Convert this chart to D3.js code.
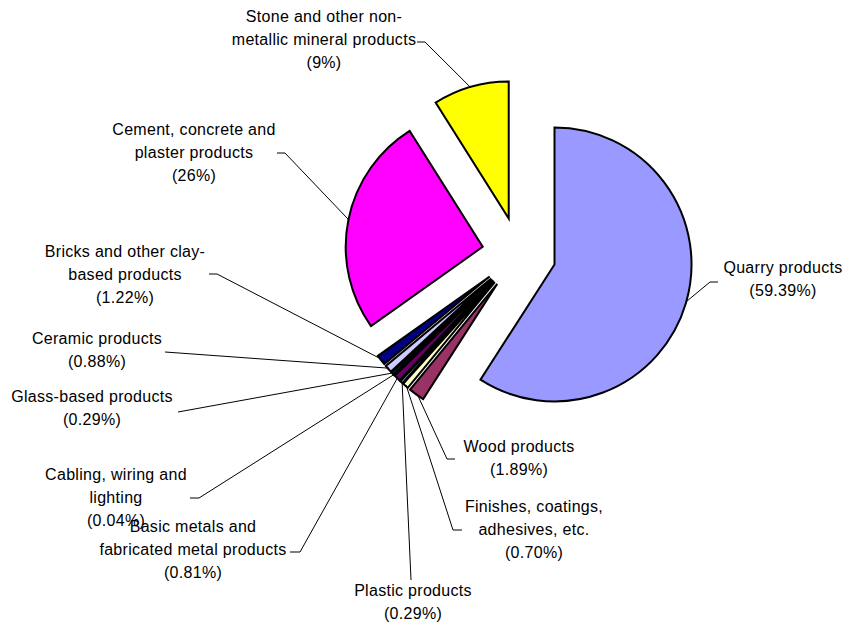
<!DOCTYPE html>
<html>
<head>
<meta charset="utf-8">
<script src="https://cdn.jsdelivr.net/npm/d3@7"></script>
<style>
  body { margin: 0; background: #fff; }
  svg { display: block; }
  .label text { font-family: "Liberation Sans", Arial, sans-serif; font-size: 16px; letter-spacing: 0.3px; fill: #000; }
  .leader { fill: none; stroke: #000; stroke-width: 1; }
  .slice { stroke: #000; stroke-width: 2; stroke-linejoin: miter; }
</style>
</head>
<body>
<svg id="chart" width="844" height="632"></svg>
<script>
// slices clockwise from 12 o'clock
const categories = [
  'Quarry products', 'Wood products', 'Finishes, coatings, adhesives, etc.',
  'Plastic products', 'Basic metals and fabricated metal products',
  'Cabling, wiring and lighting', 'Glass-based products', 'Ceramic products',
  'Bricks and other clay-based products', 'Cement, concrete and plaster products',
  'Stone and other non-metallic mineral products'
];
const labelLines = [
  [ 'Quarry products' ],
  [ 'Wood products' ],
  [ 'Finishes, coatings,', 'adhesives, etc.' ],
  [ 'Plastic products' ],
  [ 'Basic metals and', 'fabricated metal products' ],
  [ 'Cabling, wiring and', 'lighting' ],
  [ 'Glass-based products' ],
  [ 'Ceramic products' ],
  [ 'Bricks and other clay-', 'based products' ],
  [ 'Cement, concrete and', 'plaster products' ],
  [ 'Stone and other non-', 'metallic mineral products' ]
];
const shares = [ 59.39, 1.89, 0.70, 0.29, 0.81, 0.04, 0.29, 0.88, 1.22, 26, 9 ];

// Excel default chart fill order
const sliceColors = [
  '#9999FF', '#993366', '#FFFFCC', '#CCFFFF', '#660066', '#FF8080',
  '#0066CC', '#CCCCFF', '#000080', '#FF00FF', '#FFFF00'
];

// label block: centre x, first baseline, leader start, elbow end (null = straight)
const labelLayout = [
  { cx : 783, y : 273, sx : 718, sy : 282, ex : 710 },
  { cx : 519, y : 452, sx : 455, sy : 459, ex : 447 },
  { cx : 534, y : 512, sx : 462, sy : 530, ex : 453 },
  { cx : 413, y : 596, sx : 411, sy : 580, ex : null },
  { cx : 193, y : 532, sx : 290, sy : 552, ex : 300 },
  { cx : 116, y : 480, sx : 190, sy : 498, ex : 199 },
  { cx : 92, y : 402, sx : 178, sy : 412, ex : null },
  { cx : 97, y : 344, sx : 165, sy : 352, ex : null },
  { cx : 125, y : 257, sx : 209, sy : 274, ex : 217 },
  { cx : 194, y : 135, sx : 277, sy : 153, ex : 285 },
  { cx : 324, y : 22, sx : 417, sy : 42, ex : 425 }
];

class ExplodedPie
{
  constructor(svgId)
  {
    this.svg = d3.select(svgId);
    this.cx = 519;
    this.cy = 254;
    this.radius = 137;
    this.explode = 37;
    this.lineHeight = 23;

    this.pie = d3.pie().sort(null).value(d => d);
    this.arc = d3.arc().innerRadius(0).outerRadius(this.radius);
    this.slices = this.pie(shares);
    this.slices.forEach((s, i) => {
      s.index = i;
      s.mid = (s.startAngle + s.endAngle) / 2;
    });
  }

  offset(s, dist)
  {
    return [ Math.sin(s.mid) * dist, -Math.cos(s.mid) * dist ];
  }

  draw()
  {
    let root = this.svg.append('g')
                   .attr('transform', `translate(${this.cx},${this.cy})`);

    root.selectAll('path.slice')
        .data(this.slices)
        .join('path')
        .attr('class', 'slice')
        .attr('transform', d => `translate(${this.offset(d, this.explode)})`)
        .attr('fill', d => sliceColors[d.index])
        .attr('d', this.arc);

    this.drawLeaders();
    this.drawLabels();
  }

  drawLeaders()
  {
    let path = (d) => {
      let lay = labelLayout[d.index];
      let [px, py] = this.offset(d, this.radius + this.explode - 1);
      let p = d3.path();
      p.moveTo(lay.sx, lay.sy);
      if (lay.ex !== null)
        p.lineTo(lay.ex, lay.sy);
      p.lineTo(this.cx + px, this.cy + py);
      return p.toString();
    };

    this.svg.append('g')
        .selectAll('path')
        .data(this.slices)
        .join('path')
        .attr('class', 'leader')
        .attr('d', path);
  }

  drawLabels()
  {
    let fmt = v => `(${Number.isInteger(v) ? v : v.toFixed(2)}%)`;

    let labels = this.svg.append('g')
                     .attr('class', 'label')
                     .selectAll('text')
                     .data(this.slices)
                     .join('text')
                     .attr('text-anchor', 'middle');

    labels.selectAll('tspan')
        .data(d => [...labelLines[d.index], fmt(d.data) ].map(
                  (t, i) => ({ t, i, lay : labelLayout[d.index] })))
        .join('tspan')
        .attr('x', d => d.lay.cx)
        .attr('y', d => d.lay.y + d.i * this.lineHeight)
        .text(d => d.t);
  }
}

new ExplodedPie('#chart').draw();
</script>
</body>
</html>
